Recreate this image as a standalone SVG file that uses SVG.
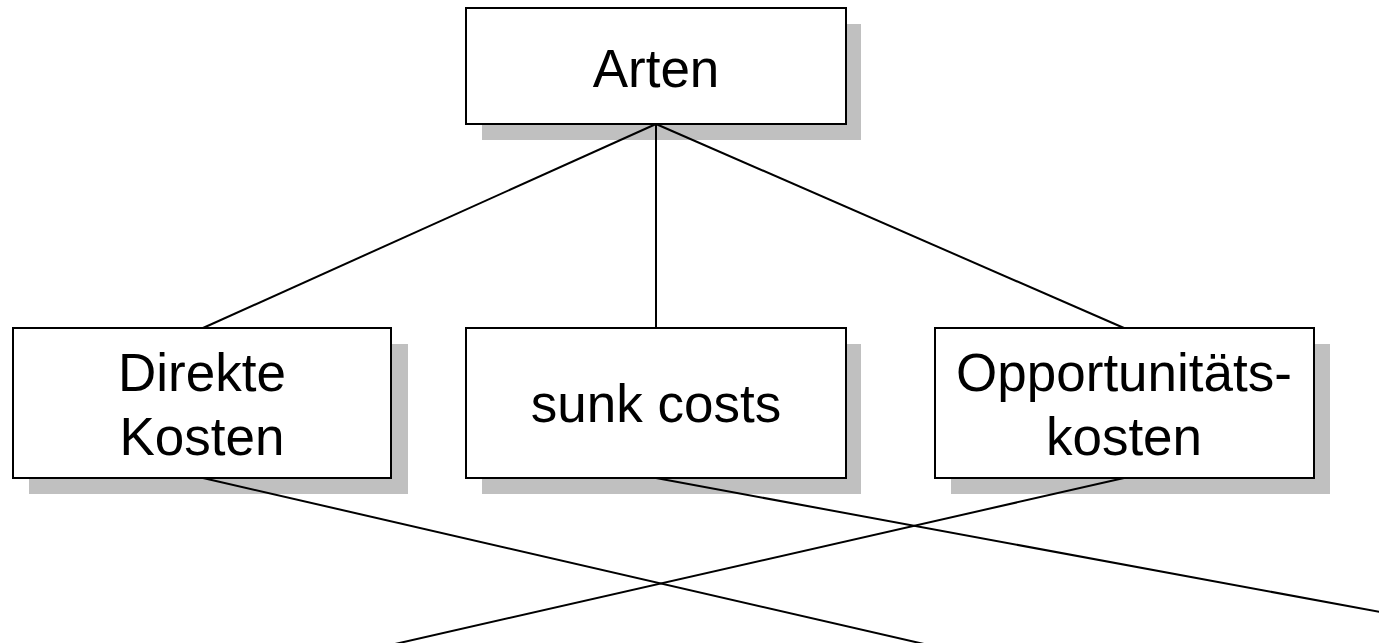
<svg xmlns="http://www.w3.org/2000/svg" width="1379" height="643" viewBox="0 0 1379 643">
<style>
.sh{fill:#c0c0c0;stroke:none}
.bx{fill:#fff;stroke:#000;stroke-width:2}
.t{font-family:"Liberation Sans",Arial,sans-serif;font-size:53px;fill:#000;text-anchor:middle}
.c{stroke:#000;stroke-width:2;fill:none}
</style>
<rect width="1379" height="643" fill="#fff"/>
<g id="n-arten">
<rect class="sh" x="482" y="24" width="379" height="116"/>
<rect class="bx" x="466" y="8" width="380" height="116"/>
<text class="t" x="656" y="87">Arten</text>
</g>
<g id="n-direkte">
<rect class="sh" x="29" y="344" width="379" height="150"/>
<rect class="bx" x="13" y="328" width="378" height="150"/>
<text class="t" x="202" y="391">Direkte</text>
<text class="t" x="202" y="455">Kosten</text>
</g>
<g id="n-sunk">
<rect class="sh" x="482" y="344" width="379" height="150"/>
<rect class="bx" x="466" y="328" width="380" height="150"/>
<text class="t" x="656" y="422">sunk costs</text>
</g>
<g id="n-opp">
<rect class="sh" x="951" y="344" width="379" height="150"/>
<rect class="bx" x="935" y="328" width="379" height="150"/>
<text class="t" x="1124" y="391">Opportunitäts-</text>
<text class="t" x="1124" y="455">kosten</text>
</g>
<g id="connectors">
<line class="c" x1="656" y1="124" x2="203" y2="328"/>
<line class="c" x1="656" y1="124" x2="656" y2="328"/>
<line class="c" x1="656" y1="124" x2="1124" y2="328"/>
<line class="c" x1="203" y1="478" x2="924" y2="644"/>
<line class="c" x1="656" y1="478" x2="1380" y2="612"/>
<line class="c" x1="1124" y1="478" x2="395" y2="644"/>
</g>
</svg>
